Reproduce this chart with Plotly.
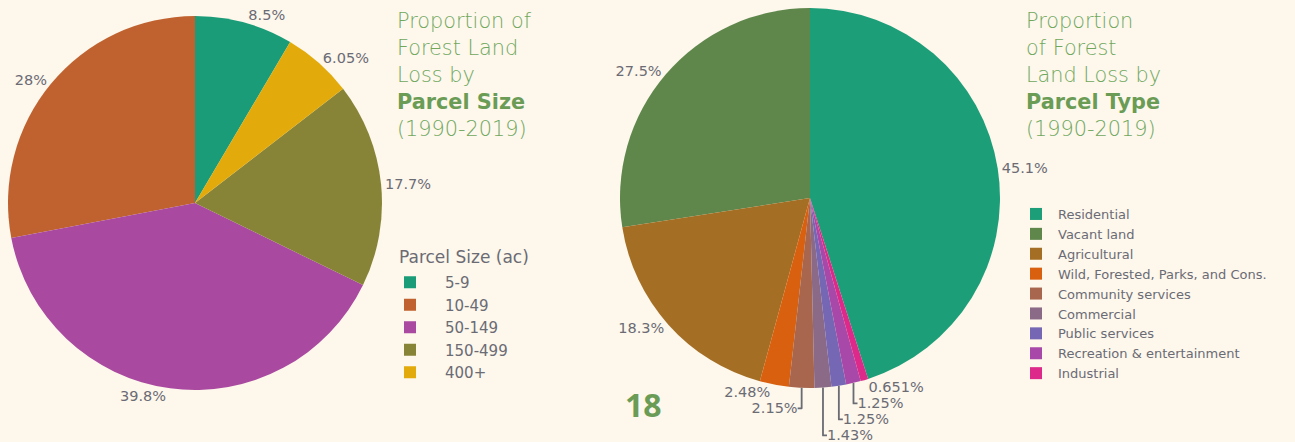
import plotly.graph_objects as go

# 区画サイズ別
size_labels = ['5-9', '10-49', '50-149', '150-499', '400+']
size_values = [8.5, 28, 39.8, 17.7, 6.05]
size_colors = ['#1B9C78', '#C0622F', '#A9499F', '#878437', '#E2AB0B']

# 区画タイプ別
type_labels = ['Residential', 'Vacant land', 'Agricultural', 'Wild, Forested, Parks, and Cons.',
               'Community services', 'Commercial', 'Public services',
               'Recreation & entertainment', 'Industrial']
type_values = [45.1, 27.5, 18.3, 2.48, 2.15, 1.43, 1.25, 1.25, 0.651]
type_colors = ['#1C9E78', '#5F874C', '#A46F24', '#D8600E', '#A8664E',
               '#8A6A86', '#7667B5', '#A848A8', '#DD2A8A']

W, H = 1295, 442
BG = '#FDF7EC'
GREEN = '#6FA75C'
GREEN_BOLD = '#6A9C55'
GREY = '#6B6B74'
label_font = dict(family='DejaVu Sans', size=14.5, color=GREY)


def px_x(x):
    return x / W


def px_y(y):
    return 1 - y / H


fig = go.Figure()

fig.add_trace(go.Pie(
    labels=size_labels, values=size_values,
    marker=dict(colors=size_colors, line=dict(width=0)),
    sort=False, direction='counterclockwise', rotation=0,
    texttemplate='%{value}%', textposition='outside', automargin=False,
    textfont=label_font, outsidetextfont=label_font,
    domain=dict(x=[px_x(8), px_x(382)], y=[px_y(402), px_y(4)]),
    legend='legend', hoverinfo='label+percent'
))

fig.add_trace(go.Pie(
    labels=type_labels, values=type_values,
    marker=dict(colors=type_colors, line=dict(width=0)),
    sort=False, direction='counterclockwise', rotation=0,
    texttemplate='%{value}%', textposition='outside', automargin=False,
    textfont=label_font, outsidetextfont=label_font,
    domain=dict(x=[px_x(620), px_x(1000)], y=[px_y(392), px_y(4)]),
    legend='legend2', hoverinfo='label+percent'
))

# タイトル
title_left = ['Proportion of', 'Forest Land', 'Loss by', '<b>Parcel Size</b>', '(1990-2019)']
title_right = ['Proportion', 'of Forest', 'Land Loss by', '<b>Parcel Type</b>', '(1990-2019)']
for x0, lines in [(395, title_left), (1024, title_right)]:
    for i, txt in enumerate(lines):
        bold = txt.startswith('<b>')
        fig.add_annotation(
            x=px_x(x0), y=px_y(20.5 + i * 27.2), xref='paper', yref='paper',
            xanchor='left', yanchor='middle', align='left', showarrow=False,
            text=txt,
            font=dict(family='DejaVu Sans', size=20.8,
                      color=GREEN_BOLD if bold else GREEN, weight=200)
        )

# 凡例タイトル
fig.add_annotation(
    x=px_x(397), y=px_y(257), xref='paper', yref='paper',
    xanchor='left', yanchor='middle', showarrow=False,
    text='Parcel Size (ac)', font=dict(family='DejaVu Sans', size=17, color=GREY)
)

# ページ番号
fig.add_annotation(
    x=px_x(643), y=px_y(404), xref='paper', yref='paper',
    xanchor='center', yanchor='middle',
    showarrow=False, text='<b>18</b>',
    font=dict(family='Open Sans', size=32, color=GREEN_BOLD)
)

fig.update_layout(
    width=W, height=H,
    margin=dict(l=0, r=0, t=0, b=0, pad=0, autoexpand=False),
    paper_bgcolor=BG, plot_bgcolor=BG,
    legend=dict(
        font=dict(family='DejaVu Sans', size=15, color=GREY),
        x=px_x(375), y=px_y(266), xanchor='left', yanchor='top',
        itemwidth=60, bgcolor='rgba(0,0,0,0)'
    ),
    legend2=dict(
        font=dict(family='DejaVu Sans', size=13, color=GREY),
        x=px_x(1014), y=px_y(199), xanchor='left', yanchor='top',
        itemwidth=34, bgcolor='rgba(0,0,0,0)'
    ),
)

fig.write_html(
    'out.html',
    config={'displayModeBar': False},
    post_script="document.body.style.margin='0';document.body.style.background='#FDF7EC';"
)
